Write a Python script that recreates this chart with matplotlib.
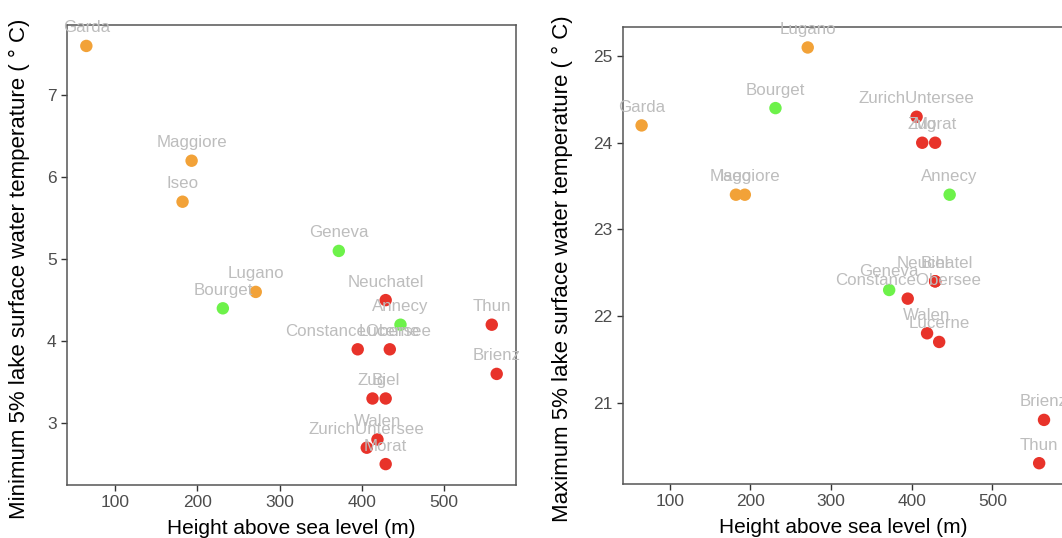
import matplotlib
matplotlib.use("Agg")
import matplotlib.pyplot as plt

plt.rcParams["font.family"] = ["Liberation Sans", "DejaVu Sans"]

# lake name, height above sea level (m), region group
lakes = ["Garda", "Maggiore", "Iseo", "Lugano", "Geneva", "Bourget", "Annecy",
         "Neuchatel", "Thun", "ConstanceObersee", "Lucerne", "Brienz", "Zug",
         "Biel", "Walen", "ZurichUntersee", "Morat"]
height = [65, 193, 182, 271, 372, 231, 447,
          429, 558, 395, 434, 564, 413,
          429, 419, 406, 429]
group = ["south", "south", "south", "south", "france", "france", "france",
         "swiss", "swiss", "swiss", "swiss", "swiss", "swiss",
         "swiss", "swiss", "swiss", "swiss"]
min_temp = [7.6, 6.2, 5.7, 4.6, 5.1, 4.4, 4.2,
            4.5, 4.2, 3.9, 3.9, 3.6, 3.3,
            3.3, 2.8, 2.7, 2.5]
max_temp = [24.2, 23.4, 23.4, 25.1, 22.3, 24.4, 23.4,
            22.4, 20.3, 22.2, 21.7, 20.8, 24.0,
            22.4, 21.8, 24.3, 24.0]

colors = {"south": "#F2A238", "france": "#6DF24A", "swiss": "#E8332A"}
xlim = (41.5, 587.5)


def panel(ax, yvals, ylabel, ylim, yticks, label_x):
    for x, y, g in zip(height, yvals, group):
        ax.scatter(x, y, s=80, color=colors[g], edgecolors="none", zorder=2)
    for name, x, y in zip(lakes, height, yvals):
        t = ax.annotate(name, (x, y), xytext=(0, 13), textcoords="offset points",
                        ha="center", va="center", fontsize=12.2, color="#BDBDBD",
                        zorder=3, annotation_clip=False)
        t.set_clip_on(True)
    ax.set_xlim(*xlim)
    ax.set_ylim(*ylim)
    ax.set_xticks([100, 200, 300, 400, 500])
    ax.set_yticks(yticks)
    ax.set_xlabel("Height above sea level (m)", fontsize=15, labelpad=6)
    ax.set_ylabel(ylabel, fontsize=16)
    ax.yaxis.set_label_coords(label_x, 0.47)
    ax.tick_params(labelsize=12.5, labelcolor="#4D4D4D", color="#333333",
                   length=4, width=1)
    for sp in ax.spines.values():
        sp.set_color("#555555")
        sp.set_linewidth(1.1)


fig = plt.figure(figsize=(10.62, 5.38), dpi=100)
ax1 = fig.add_axes([0.0631, 0.0985, 0.4228, 0.855])
ax2 = fig.add_axes([0.5863, 0.1004, 0.4146, 0.850])

panel(ax1, min_temp, "Minimum 5% lake surface water temperature ( ° C)",
      (2.245, 7.855), [3, 4, 5, 6, 7], -0.083)
panel(ax2, max_temp, "Maximum 5% lake surface water temperature ( ° C)",
      (20.06, 25.34), [21, 22, 23, 24, 25], -0.112)

fig.savefig("out.png", dpi=100)
